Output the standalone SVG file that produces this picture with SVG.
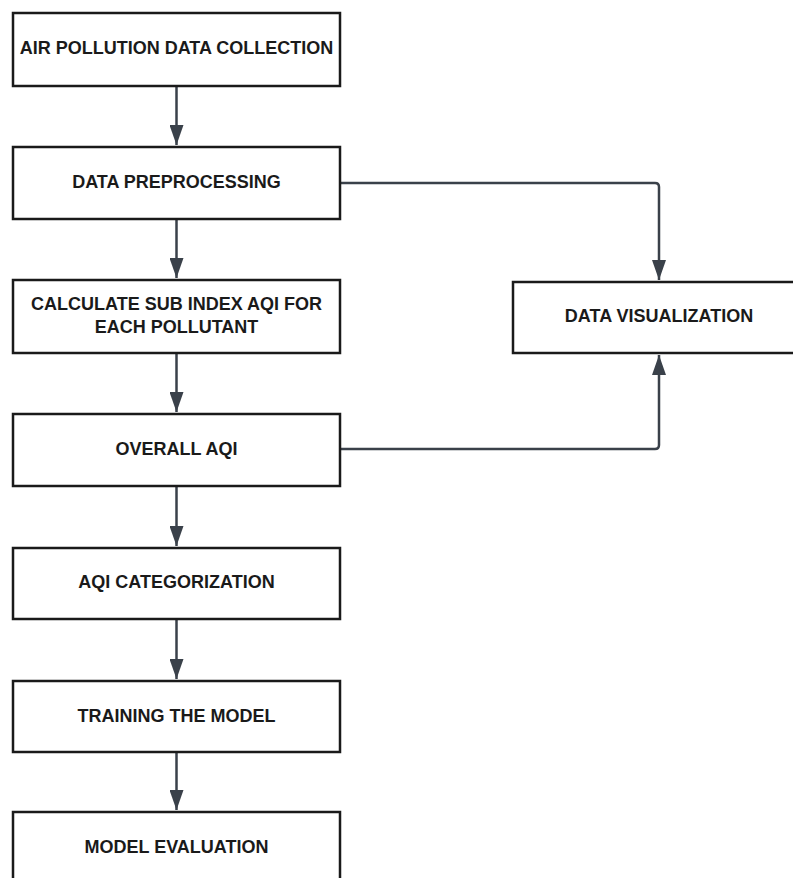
<svg xmlns="http://www.w3.org/2000/svg" width="793" height="878" viewBox="0 0 793 878">
<style>
.box{fill:#fff;stroke:#1a1a1a;stroke-width:2.5}
.lbl{font-family:"Liberation Sans",Arial,sans-serif;font-weight:bold;font-size:18px;fill:#1a1a1a;text-anchor:middle;dominant-baseline:central}
.con{fill:none;stroke:#3a414a;stroke-width:2.5}
</style>
<defs>
<marker id="ah" markerWidth="20" markerHeight="14" refX="20" refY="7" orient="auto" markerUnits="userSpaceOnUse">
<path d="M0,0 L20,7 L0,14 Z" fill="#3a414a"/>
</marker>
</defs>
<rect width="793" height="878" fill="#fff"/>
<g id="connectors">
<path class="con" d="M176.5,86 V145" marker-end="url(#ah)"/>
<path class="con" d="M176.5,219 V278" marker-end="url(#ah)"/>
<path class="con" d="M176.5,353 V412" marker-end="url(#ah)"/>
<path class="con" d="M176.5,486 V546" marker-end="url(#ah)"/>
<path class="con" d="M176.5,619 V679" marker-end="url(#ah)"/>
<path class="con" d="M176.5,752 V810" marker-end="url(#ah)"/>
<path class="con" d="M340,183 H655 Q659,183 659,187 V280" marker-end="url(#ah)"/>
<path class="con" d="M340,449 H655 Q659,449 659,445 V355" marker-end="url(#ah)"/>
</g>
<g id="n1"><rect class="box" x="13" y="13" width="327" height="73"/><text class="lbl" x="176.5" y="48">AIR POLLUTION DATA COLLECTION</text></g>
<g id="n2"><rect class="box" x="13" y="147" width="327" height="72"/><text class="lbl" x="176.5" y="182">DATA PREPROCESSING</text></g>
<g id="n3"><rect class="box" x="13" y="280" width="327" height="73"/><text class="lbl" x="176.5" y="304">CALCULATE SUB INDEX AQI FOR</text><text class="lbl" x="176.5" y="327">EACH POLLUTANT</text></g>
<g id="n4"><rect class="box" x="13" y="414" width="327" height="72"/><text class="lbl" x="176.5" y="449">OVERALL AQI</text></g>
<g id="n5"><rect class="box" x="13" y="548" width="327" height="71"/><text class="lbl" x="176.5" y="582">AQI CATEGORIZATION</text></g>
<g id="n6"><rect class="box" x="13" y="681" width="327" height="71"/><text class="lbl" x="176.5" y="716">TRAINING THE MODEL</text></g>
<g id="n7"><rect class="box" x="13" y="812" width="327" height="80"/><text class="lbl" x="176.5" y="847">MODEL EVALUATION</text></g>
<g id="n8"><rect class="box" x="513" y="282" width="300" height="71"/><text class="lbl" x="659" y="316">DATA VISUALIZATION</text></g>
</svg>
